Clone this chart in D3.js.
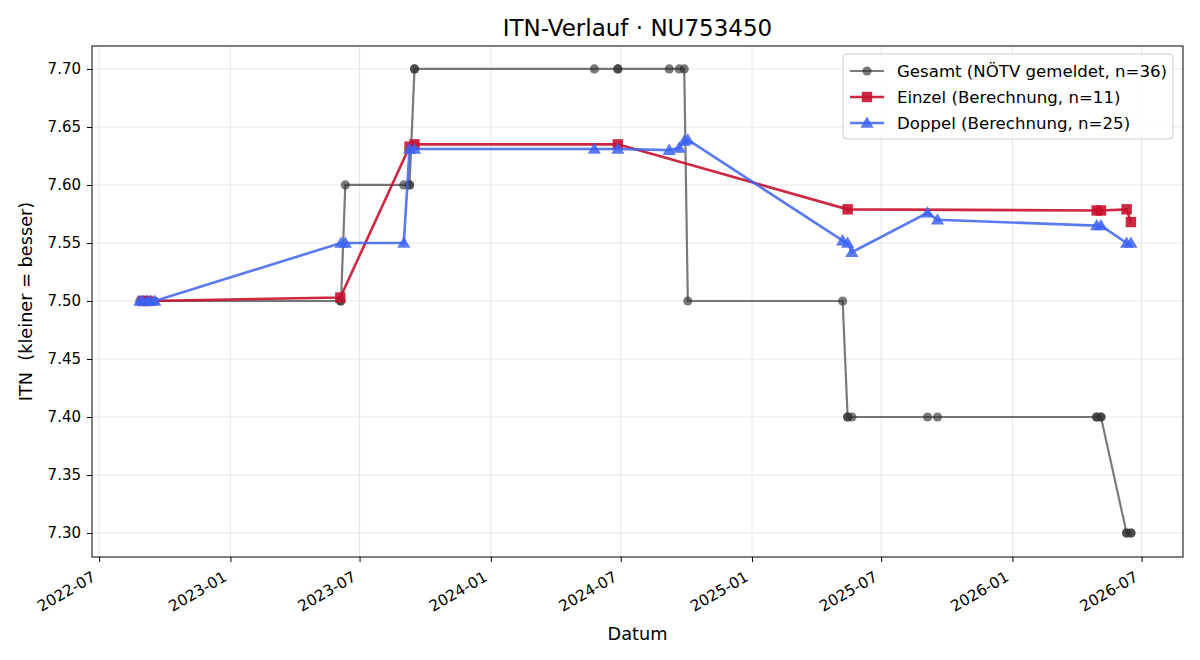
<!DOCTYPE html>
<html><head><meta charset="utf-8">
<script src="https://cdn.jsdelivr.net/npm/d3@7"></script>
<style>body{margin:0;background:#fff}svg{display:block;font-family:"DejaVu Sans",sans-serif}text{white-space:pre}</style>
</head><body><svg id="c" width="1200" height="660"></svg>
<script>
// ---- data ----
const gesamtDates = ["2022-08-27","2022-08-31","2022-08-31","2022-09-06","2022-09-07","2022-09-11","2022-09-17",
  "2023-06-04","2023-06-05","2023-06-11",
  "2023-09-01","2023-09-09","2023-09-09","2023-09-16","2023-09-16",
  "2024-05-25","2024-06-27","2024-06-27","2024-09-07","2024-09-21","2024-09-28","2024-10-03",
  "2025-05-08","2025-05-15","2025-05-15","2025-05-21",
  "2025-09-04","2025-09-18",
  "2026-04-29","2026-04-29","2026-05-05","2026-05-05",
  "2026-06-10","2026-06-10","2026-06-16","2026-06-16"];
const gesamtValues = [7.50,7.50,7.50,7.50,7.50,7.50,7.50,
  7.50,7.50,7.60,
  7.60,7.60,7.60,7.70,7.70,
  7.70,7.70,7.70,7.70,7.70,7.70,7.50,
  7.50,7.40,7.40,7.40,
  7.40,7.40,
  7.40,7.40,7.40,7.40,
  7.30,7.30,7.30,7.30];
const einzelDates = ["2022-08-31","2022-09-07","2023-06-04","2023-09-09","2023-09-16","2024-06-27",
  "2025-05-15","2026-04-29","2026-05-05","2026-06-10","2026-06-16"];
const einzelValues = [7.500,7.500,7.503,7.633,7.635,7.635,7.579,7.578,7.578,7.579,7.568];
const doppelDates = ["2022-08-27","2022-08-31","2022-09-06","2022-09-11","2022-09-17",
  "2023-06-05","2023-06-11","2023-09-01","2023-09-09","2023-09-16",
  "2024-05-25","2024-06-27","2024-09-07","2024-09-21","2024-09-28","2024-10-03",
  "2025-05-08","2025-05-15","2025-05-21","2025-09-04","2025-09-18",
  "2026-04-29","2026-05-05","2026-06-10","2026-06-16"];
const doppelValues = [7.50,7.50,7.50,7.50,7.50,
  7.55,7.55,7.55,7.631,7.631,
  7.631,7.631,7.630,7.632,7.638,7.639,
  7.552,7.550,7.542,7.576,7.570,
  7.565,7.565,7.550,7.550];
const xTickLabels = ["2022-07","2023-01","2023-07","2024-01","2024-07","2025-01","2025-07","2026-01","2026-07"];
const yTicks = [7.30,7.35,7.40,7.45,7.50,7.55,7.60,7.65,7.70];
const legendLabels = ["Gesamt (NÖTV gemeldet, n=36)","Einzel (Berechnung, n=11)","Doppel (Berechnung, n=25)"];
const titleText = "ITN-Verlauf · NU753450";
const xLabel = "Datum";
const yLabel = "ITN  (kleiner = besser)";

// ---- layout ----
const L = 92, R = 1183, T = 46, B = 557;
const parse = d3.utcParse("%Y-%m-%d");
const parseM = d3.utcParse("%Y-%m");
const x = d3.scaleUtc().domain([parse("2022-06-21"), parse("2026-08-28")]).range([L, R]);
const y = d3.scaleLinear().domain([7.2793, 7.7198]).range([B, T]);

const svg = d3.select("#c");
const g = svg.append("g");

// grid
const xTicks = xTickLabels.map(parseM);
g.selectAll(".gx").data(xTicks).enter().append("line")
  .attr("x1", d => x(d)).attr("x2", d => x(d)).attr("y1", T).attr("y2", B)
  .attr("stroke", "#b0b0b0").attr("stroke-opacity", 0.3).attr("stroke-width", 1);
g.selectAll(".gy").data(yTicks).enter().append("line")
  .attr("y1", d => y(d)).attr("y2", d => y(d)).attr("x1", L).attr("x2", R)
  .attr("stroke", "#b0b0b0").attr("stroke-opacity", 0.3).attr("stroke-width", 1);

// axes
const xAxis = d3.axisBottom(x).tickValues(xTicks).tickFormat(d3.utcFormat("%Y-%m")).tickSizeOuter(0).tickSize(5);
const xa = svg.append("g").attr("transform", `translate(0,${B})`).call(xAxis);
xa.select(".domain").remove();
xa.selectAll("line").attr("stroke", "#000").attr("stroke-width", 1);
xa.selectAll("text").attr("font-size", 15.3).attr("fill", "#000").attr("font-family", "DejaVu Sans")
  .attr("text-anchor", "end").attr("dy", null).attr("y", 0)
  .attr("transform", "translate(-3,23) rotate(-30)");
const yAxis = d3.axisLeft(y).tickValues(yTicks).tickFormat(d3.format(".2f")).tickSizeOuter(0).tickSize(5);
const ya = svg.append("g").attr("transform", `translate(${L},0)`).call(yAxis);
ya.select(".domain").remove();
ya.selectAll("line").attr("stroke", "#000").attr("stroke-width", 1);
ya.selectAll("text").attr("font-size", 15).attr("fill", "#000").attr("font-family", "DejaVu Sans").attr("x", -11);

// series
const mk = (ds, vs) => ds.map((d, i) => ({ d: parse(d), v: vs[i] }));
const gesamt = mk(gesamtDates, gesamtValues);
const einzel = mk(einzelDates, einzelValues);
const doppel = mk(doppelDates, doppelValues);
const line = d3.line().x(p => x(p.d)).y(p => y(p.v));

const sG = { col: "#333333", op: 0.65 };
const sE = { col: "#c8102e", op: 0.9 };
const sD = { col: "#3d63f2", op: 0.85 };

const gG = svg.append("g");
gG.append("path").attr("d", line(gesamt)).attr("fill", "none").attr("stroke", sG.col).attr("stroke-opacity", sG.op).attr("stroke-width", 2.2);
gG.selectAll("circle").data(gesamt).enter().append("circle")
  .attr("cx", p => x(p.d)).attr("cy", p => y(p.v)).attr("r", 4.6)
  .attr("fill", sG.col).attr("fill-opacity", sG.op);

const gE = svg.append("g");
gE.append("path").attr("d", line(einzel)).attr("fill", "none").attr("stroke", sE.col).attr("stroke-opacity", sE.op).attr("stroke-width", 2.6);
gE.selectAll("rect").data(einzel).enter().append("rect")
  .attr("x", p => x(p.d) - 5.2).attr("y", p => y(p.v) - 5.2).attr("width", 10.4).attr("height", 10.4)
  .attr("fill", sE.col).attr("fill-opacity", sE.op);

const tri = d3.symbol().type(d3.symbolTriangle).size(75);
const gD = svg.append("g");
gD.append("path").attr("d", line(doppel)).attr("fill", "none").attr("stroke", sD.col).attr("stroke-opacity", sD.op).attr("stroke-width", 2.6);
gD.selectAll(".t").data(doppel).enter().append("path")
  .attr("d", tri).attr("transform", p => `translate(${x(p.d)},${y(p.v) + 1})`)
  .attr("fill", sD.col).attr("fill-opacity", sD.op);

// frame
svg.append("rect").attr("x", L).attr("y", T).attr("width", R - L).attr("height", B - T)
  .attr("fill", "none").attr("stroke", "#000").attr("stroke-width", 1);

// title and labels
svg.append("text").attr("x", (L + R) / 2).attr("y", 36).attr("text-anchor", "middle")
  .attr("font-size", 23).attr("fill", "#000").text(titleText);
svg.append("text").attr("x", (L + R) / 2).attr("y", 640).attr("text-anchor", "middle")
  .attr("font-size", 17.7).attr("fill", "#000").text(xLabel);
svg.append("text").attr("transform", `translate(32,${(T + B) / 2}) rotate(-90)`).attr("text-anchor", "middle")
  .attr("font-size", 17.7).attr("fill", "#000").text(yLabel);

// legend
const lg = svg.append("g");
lg.append("rect").attr("x", 843).attr("y", 54).attr("width", 330).attr("height", 85).attr("rx", 4)
  .attr("fill", "#fff").attr("fill-opacity", 0.8).attr("stroke", "#cccccc");
const styles = [sG, sE, sD];
legendLabels.forEach((t, i) => {
  const cy = 71 + i * 26;
  const s = styles[i];
  lg.append("line").attr("x1", 850).attr("x2", 884).attr("y1", cy).attr("y2", cy)
    .attr("stroke", s.col).attr("stroke-opacity", s.op).attr("stroke-width", i === 0 ? 2.2 : 2.6);
  if (i === 0) lg.append("circle").attr("cx", 867).attr("cy", cy).attr("r", 4.6).attr("fill", s.col).attr("fill-opacity", s.op);
  if (i === 1) lg.append("rect").attr("x", 861.8).attr("y", cy - 5.2).attr("width", 10.4).attr("height", 10.4).attr("fill", s.col).attr("fill-opacity", s.op);
  if (i === 2) lg.append("path").attr("d", tri).attr("transform", `translate(867,${cy + 1})`).attr("fill", s.col).attr("fill-opacity", s.op);
  lg.append("text").attr("x", 897).attr("y", cy + 6).attr("font-size", 16.6).attr("fill", "#000").text(t);
});
</script></body></html>
